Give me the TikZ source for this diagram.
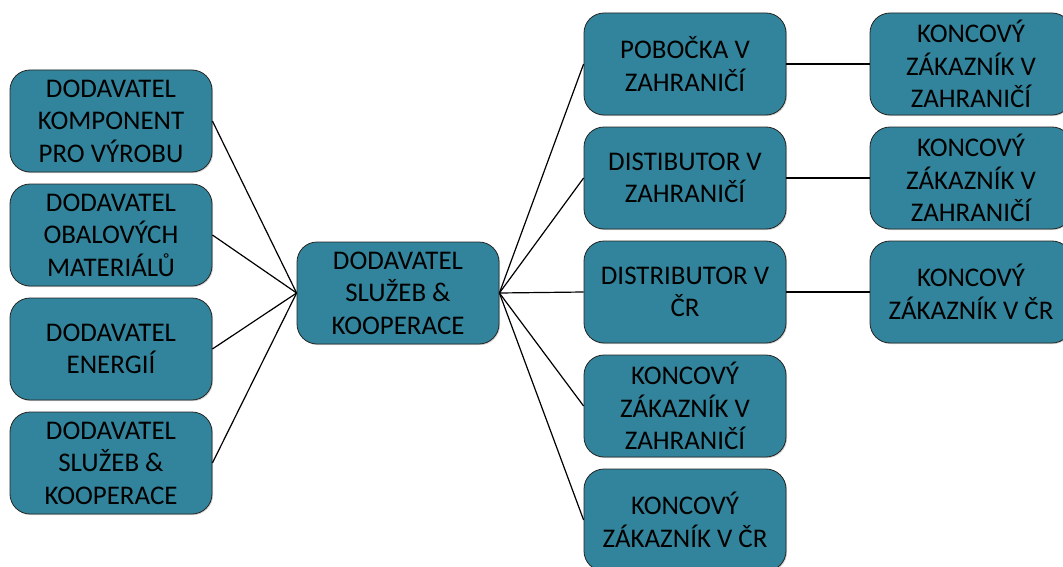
\documentclass[tikz,border=0pt]{standalone}
\usepackage{fontspec}
\setmainfont{Carlito}
\usetikzlibrary{shadows}
\definecolor{boxclr}{RGB}{49,132,155}
\newcommand{\boxfont}{\fontsize{20.2}{24.4}\selectfont}

\begin{document}
\begin{tikzpicture}[x=0.75pt,y=-0.75pt,
    unit/.style={draw=black!85, line width=0.6pt, fill=boxclr, rounded corners=15pt,
        minimum width=151.5pt, minimum height=76.5pt, inner sep=2pt,
        align=center, font=\boxfont,
        drop shadow={opacity=0.35, shadow xshift=0.8pt, shadow yshift=-0.8pt}},
    link/.style={line width=0.9pt, black}]

        \useasboundingbox (0,0) rectangle (1063,567);

        \node[unit] (s1) at (111,121) {DODAVATEL\\KOMPONENT\\PRO VÝROBU};
        \node[unit] (s2) at (111,235) {DODAVATEL\\OBALOVÝCH\\MATERIÁLŮ};
        \node[unit] (s3) at (111,349) {DODAVATEL\\ENERGIÍ};
        \node[unit] (s4) at (111,463) {DODAVATEL\\SLUŽEB \&\\KOOPERACE};

        \node[unit] (c) at (398,293) {DODAVATEL\\SLUŽEB \&\\KOOPERACE};

        \node[unit] (m1) at (685,64) {POBOČKA V\\ZAHRANIČÍ};
        \node[unit] (m2) at (685,178) {DISTIBUTOR V\\ZAHRANIČÍ};
        \node[unit] (m3) at (685,292) {DISTRIBUTOR V\\ČR};
        \node[unit] (m4) at (685,406) {KONCOVÝ\\ZÁKAZNÍK V\\ZAHRANIČÍ};
        \node[unit] (m5) at (685,520) {KONCOVÝ\\ZÁKAZNÍK V ČR};

        \node[unit] (k1) at (971,64) {KONCOVÝ\\ZÁKAZNÍK V\\ZAHRANIČÍ};
        \node[unit] (k2) at (971,178) {KONCOVÝ\\ZÁKAZNÍK V\\ZAHRANIČÍ};
        \node[unit] (k3) at (971,292) {KONCOVÝ\\ZÁKAZNÍK V ČR};

        \foreach \v in {s1,s2,s3,s4} {
            \draw[link] (\v.east) -- (c.west);
        }

        \foreach \w in {m1,m2,m3,m4,m5} {
            \draw[link] (c.east) -- (\w.west);
        }

        \foreach \v/\w in {m1/k1, m2/k2, m3/k3} {
            \draw[link] (\v.east) -- (\w.west);
        }

    \end{tikzpicture}
\end{document}
